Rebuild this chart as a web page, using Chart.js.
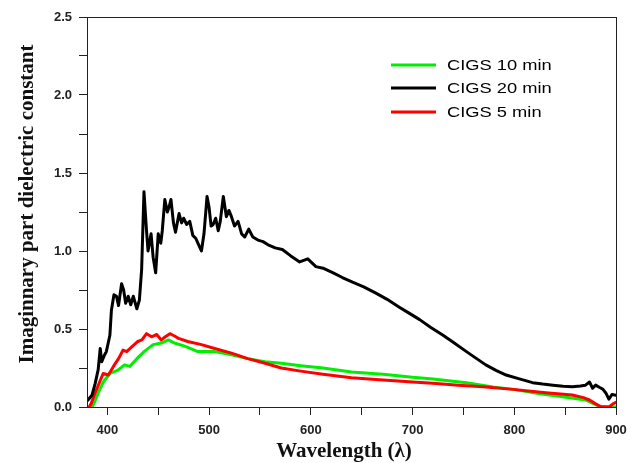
<!DOCTYPE html>
<html>
<head>
<meta charset="utf-8">
<script src="https://cdn.jsdelivr.net/npm/chart.js@4.4.1/dist/chart.umd.min.js"></script>
<style>
    html, body { margin: 0; padding: 0; background: #fff; }
    #wrap { width: 638px; height: 463px; }
</style>
</head>
<body>
<div id="wrap"><canvas id="epsChart" width="638" height="463"></canvas></div>
<script>
// Imaginary part of the dielectric constant vs wavelength, three CIGS samples
const seriesNames = ['CIGS 10 min', 'CIGS 20 min', 'CIGS 5 min'];

const wl20 = [380, 381, 385, 388, 391, 393, 394.5, 397, 399, 402.5, 404, 406.5, 409, 411, 414, 416, 418, 420.5, 423, 425.5,
    429, 431.5, 433.7, 436, 438.5, 440, 443, 445, 447.5, 450, 452.5, 454, 456.5, 459, 461, 462.5, 465, 467, 470.5, 473,
    475, 478, 481, 484, 487, 489, 492.5, 495, 498, 500, 502, 504, 506.5, 509, 511, 514, 517, 519.5, 522, 525,
    528.5, 532, 535, 539, 543, 548, 553, 558, 565, 572, 580, 589, 597, 605, 612, 622, 631, 641, 652, 664,
    675, 687, 697, 707, 718, 730, 741, 753, 763, 772, 782, 792, 805, 818, 828, 838, 848, 857, 865, 870,
    874, 877, 880, 884, 887, 890, 893, 896, 900];
const eps20 = [0.04, 0.045, 0.077, 0.15, 0.24, 0.375, 0.29, 0.33, 0.355, 0.46, 0.62, 0.72, 0.71, 0.65, 0.79, 0.75, 0.665, 0.71, 0.655, 0.71,
    0.63, 0.685, 0.88, 1.38, 1.13, 1.0, 1.11, 0.96, 0.86, 1.11, 1.05, 1.13, 1.33, 1.25, 1.29, 1.33, 1.18, 1.12, 1.24, 1.18,
    1.21, 1.17, 1.19, 1.10, 1.08, 1.05, 1.0, 1.11, 1.35, 1.28, 1.16, 1.17, 1.21, 1.13, 1.19, 1.35, 1.22, 1.26, 1.22, 1.16,
    1.19, 1.11, 1.09, 1.14, 1.09, 1.07, 1.06, 1.04, 1.02, 1.01, 0.97, 0.93, 0.95, 0.90, 0.89, 0.86, 0.83, 0.80, 0.77, 0.73,
    0.69, 0.64, 0.60, 0.56, 0.51, 0.46, 0.41, 0.355, 0.31, 0.27, 0.235, 0.205, 0.18, 0.156, 0.147, 0.14, 0.133, 0.13, 0.135, 0.14,
    0.16, 0.12, 0.14, 0.125, 0.115, 0.09, 0.05, 0.08, 0.075];

const wl10 = [385, 388, 391, 396, 402.5, 410.5, 417, 422, 429, 437, 445, 453, 460, 466, 476, 489, 505.5, 522, 538, 555,
    571, 590, 612, 640, 671, 700, 720, 753, 779, 799, 825, 851, 870, 880, 885, 900];
const eps10 = [0, 0.04, 0.09, 0.16, 0.215, 0.237, 0.27, 0.26, 0.31, 0.36, 0.40, 0.41, 0.43, 0.41, 0.39, 0.355, 0.355, 0.335, 0.31, 0.29,
    0.28, 0.265, 0.25, 0.225, 0.21, 0.19, 0.18, 0.156, 0.128, 0.113, 0.085, 0.062, 0.045, 0.015, 0, 0];

const wl5 = [382, 384, 388, 393, 396, 401, 406, 411, 415.5, 419, 424, 430, 434, 438.5, 443.5, 448.5, 453, 457, 461.5, 466,
    470, 479, 492.5, 505.5, 522, 538, 555, 571, 590, 612, 640, 671, 700, 720, 745, 769, 799, 831, 857, 868,
    874, 880, 885, 893, 898, 900];
const eps5 = [0, 0.02, 0.09, 0.17, 0.215, 0.205, 0.26, 0.31, 0.365, 0.355, 0.385, 0.42, 0.43, 0.47, 0.45, 0.465, 0.43, 0.45, 0.47, 0.455,
    0.44, 0.42, 0.40, 0.375, 0.345, 0.31, 0.28, 0.25, 0.23, 0.21, 0.188, 0.173, 0.16, 0.152, 0.14, 0.13, 0.113, 0.092, 0.077, 0.06,
    0.045, 0.02, 0.003, 0, 0.024, 0.03];

// axis ticks (minor ones carry no label)
const xTicks = [400, 450, 500, 550, 600, 650, 700, 750, 800, 850, 900];
const xLabels = [400, 500, 600, 700, 800, 900];
const yTicks = [0, 0.25, 0.5, 0.75, 1.0, 1.25, 1.5, 1.75, 2.0, 2.25, 2.5];
const yLabels = [0, 0.5, 1.0, 1.5, 2.0, 2.5];

const xTitle = 'Wavelength (λ)';
const yTitle = 'Imaginnary part dielectric constant';

const colors = { 'CIGS 10 min': '#00ee00', 'CIGS 20 min': '#000000', 'CIGS 5 min': '#ff0000' };

function toPoints(xs, ys) {
    return xs.map((x, i) => ({ x: x, y: ys[i] }));
}

const tickFont = { family: '"Liberation Sans", Arial, sans-serif', size: 13, weight: 'bold' };
const titleFont = 'bold 21px "Liberation Serif", "Times New Roman", serif';

// box around the plot, axis titles, legend inside the top right corner
const framePlugin = {
    id: 'frame',
    afterDraw(chart) {
        const { ctx, chartArea: a } = chart;
        ctx.save();
        ctx.strokeStyle = '#222';
        ctx.lineWidth = 1;
        ctx.strokeRect(a.left + 0.5, a.top + 0.5, a.right - a.left, a.bottom - a.top);

        ctx.fillStyle = '#111';
        ctx.font = titleFont;
        ctx.textAlign = 'center';
        ctx.textBaseline = 'alphabetic';
        ctx.fillText(xTitle, 344, 457);
        ctx.save();
        ctx.translate(33, 204);
        ctx.rotate(-Math.PI / 2);
        ctx.fillText(yTitle, 0, 0);
        ctx.restore();

        ctx.font = '15px "Liberation Sans", Arial, sans-serif';
        ctx.textAlign = 'left';
        ctx.textBaseline = 'middle';
        seriesNames.forEach((name, i) => {
            const y = [65, 88, 112][i];
            ctx.strokeStyle = colors[name];
            ctx.lineWidth = 3;
            ctx.beginPath();
            ctx.moveTo(391, y);
            ctx.lineTo(436, y);
            ctx.stroke();
            ctx.save();
            ctx.translate(447, y + 1);
            ctx.scale(1.22, 1);
            ctx.fillStyle = '#000';
            ctx.fillText(name, 0, 0);
            ctx.restore();
        });
        ctx.restore();
    }
};

const ctx = document.getElementById('epsChart').getContext('2d');
new Chart(ctx, {
    type: 'line',
    data: {
        datasets: [
            { label: 'CIGS 20 min', data: toPoints(wl20, eps20), borderColor: colors['CIGS 20 min'], order: 0 },
            { label: 'CIGS 5 min', data: toPoints(wl5, eps5), borderColor: colors['CIGS 5 min'], order: 1 },
            { label: 'CIGS 10 min', data: toPoints(wl10, eps10), borderColor: colors['CIGS 10 min'], order: 2 }
        ]
    },
    options: {
        responsive: false,
        animation: false,
        devicePixelRatio: 1,
        layout: { padding: { top: 17, right: 22, left: 0, bottom: 0 } },
        elements: {
            line: { borderWidth: 3, tension: 0, fill: false, borderJoinStyle: 'round', borderCapStyle: 'round' },
            point: { radius: 0 }
        },
        plugins: {
            legend: { display: false },
            tooltip: { enabled: false }
        },
        scales: {
            x: {
                type: 'linear',
                min: 380,
                max: 900,
                afterBuildTicks: scale => { scale.ticks = xTicks.map(v => ({ value: v })); },
                afterFit: scale => { scale.height = 56; },
                ticks: {
                    autoSkip: false,
                    maxRotation: 0,
                    padding: 8,
                    color: '#222',
                    font: tickFont,
                    callback: v => xLabels.includes(v) ? String(v) : ''
                },
                grid: { drawOnChartArea: false, drawTicks: true, tickLength: 8, color: '#222' },
                border: { color: '#222', width: 1 }
            },
            y: {
                min: 0,
                max: 2.5,
                afterBuildTicks: scale => { scale.ticks = yTicks.map(v => ({ value: v })); },
                afterFit: scale => { scale.width = 87; },
                ticks: {
                    padding: 7,
                    color: '#222',
                    font: tickFont,
                    callback: v => yLabels.includes(v) ? v.toFixed(1) : ''
                },
                grid: { drawOnChartArea: false, drawTicks: true, tickLength: 8, color: '#222' },
                border: { color: '#222', width: 1 }
            }
        }
    },
    plugins: [framePlugin]
});
</script>
</body>
</html>
